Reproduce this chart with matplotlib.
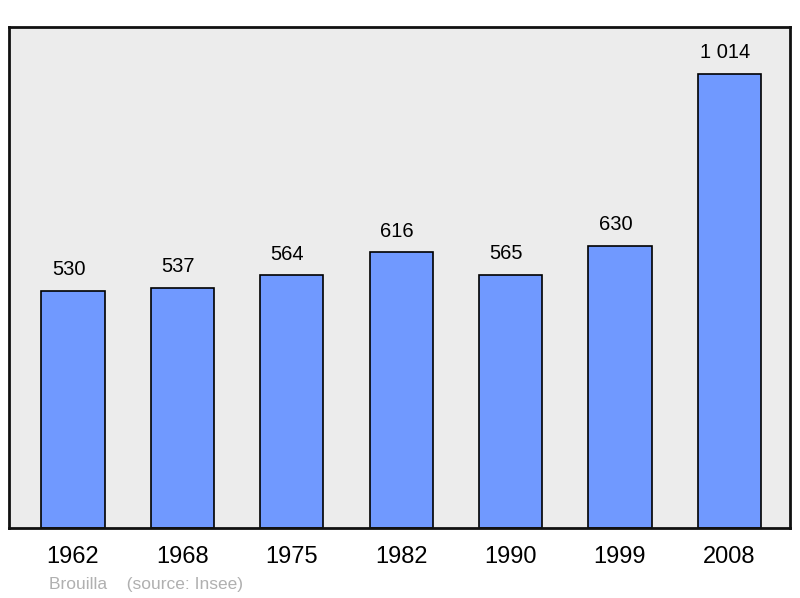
import matplotlib.pyplot as plt
import matplotlib

matplotlib.rcParams['font.family'] = ['Liberation Sans', 'DejaVu Sans']

years = ['1962', '1968', '1975', '1982', '1990', '1999', '2008']
population = [530, 537, 564, 616, 565, 630, 1014]
labels = ['530', '537', '564', '616', '565', '630', '1 014']

fig = plt.figure(figsize=(8, 5.98), dpi=100, facecolor='white')
ax = fig.add_axes([9 / 800, 70 / 598, 781 / 800, 501 / 598])
ax.set_facecolor('#ececec')

x = range(len(years))
ax.bar(x, population, width=0.576, color='#7099ff', edgecolor='black', linewidth=1.2, zorder=2)
for i, (v, s) in enumerate(zip(population, labels)):
    # labels sit a little left of the bar centre
    ax.text(i - 0.04, v + 26, s, ha='center', va='bottom', fontsize=14.5, color='black')

ax.set_xlim(-0.585, 6.554)
ax.set_ylim(0, 1119)
ax.set_xticks(list(x))
ax.set_xticklabels(years, fontsize=17)
ax.tick_params(axis='x', length=0, pad=13)
ax.set_yticks([])
for sp in ax.spines.values():
    sp.set_linewidth(2)
    sp.set_color('#111111')

fig.text(49 / 800, 1 - 584 / 598, 'Brouilla    (source: Insee)', fontsize=12.5,
         color='#b0b0b0', ha='left', va='center')

fig.savefig('out.png', dpi=100)
